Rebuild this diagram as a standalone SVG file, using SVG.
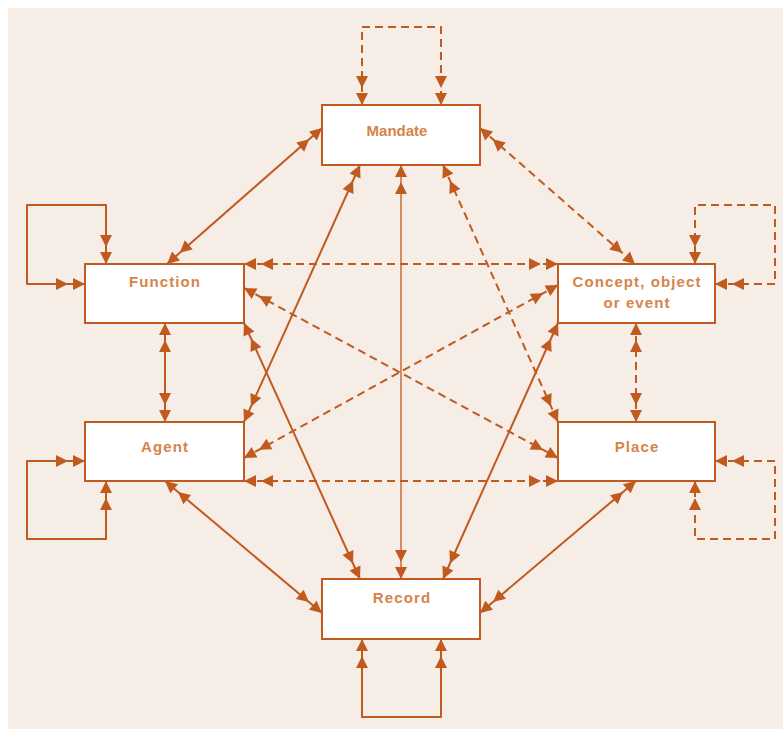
<svg xmlns="http://www.w3.org/2000/svg" width="783" height="729" viewBox="0 0 783 729">
<style>
.box{fill:#ffffff;stroke:#C05A1E;stroke-width:2}
.lbl{font-family:"Liberation Sans",Arial,sans-serif;font-size:15px;font-weight:bold;fill:#D6844A;text-anchor:middle;letter-spacing:1.1px}
.c{fill:none;stroke:#C05A1E;stroke-width:2;marker-start:url(#dh);marker-end:url(#dh);stroke-linejoin:round}
.thin{stroke-width:1.3}
.dash{stroke-dasharray:8 5}
</style>
<defs>
<marker id="dh" viewBox="0 0 31 13" refX="31" refY="6.5" markerWidth="31" markerHeight="13" markerUnits="userSpaceOnUse" orient="auto-start-reverse">
<path d="M31,6.5 L19,0.5 L19,12.5 Z M14,6.5 L2,0.5 L2,12.5 Z" fill="#C05A1E"/>
</marker>
</defs>
<rect x="8" y="8" width="775" height="721" fill="#F6EDE6"/>
<g id="connectors">
<path class="c dash" d="M362,105 V27 H441 V105"/>
<path class="c" d="M85,284 H27 V205 H106 V264"/>
<path class="c dash" d="M715,284 H775 V205 H695 V264"/>
<path class="c" d="M85,461 H27 V539 H106 V481"/>
<path class="c dash" d="M715,461 H775 V539 H695 V481"/>
<path class="c" d="M362,639 V717 H441 V639"/>
<path class="c" d="M322,128 L167,264"/>
<path class="c" d="M360,165 L244,422"/>
<path class="c thin" d="M401,165 L401,579"/>
<path class="c" d="M165,323 L165,422"/>
<path class="c" d="M244,323 L360,579"/>
<path class="c" d="M558,323 L443,579"/>
<path class="c" d="M165,481 L322,613"/>
<path class="c" d="M636,481 L480,613"/>
<path class="c dash" d="M480,128 L635,264"/>
<path class="c dash" d="M443,165 L558,422"/>
<path class="c dash" d="M244,264 L558,264"/>
<path class="c dash" d="M244,288 L558,458"/>
<path class="c dash" d="M558,285 L244,458"/>
<path class="c dash" d="M636,323 L636,422"/>
<path class="c dash" d="M244,481 L558,481"/>
</g>
<g id="mandate"><rect class="box" x="322" y="105" width="158" height="60"/><text class="lbl" x="397" y="136" style="letter-spacing:0">Mandate</text></g>
<g id="function"><rect class="box" x="85" y="264" width="159" height="59"/><text class="lbl" x="165" y="287">Function</text></g>
<g id="concept"><rect class="box" x="558" y="264" width="157" height="59"/><text class="lbl" x="637" y="287">Concept, object</text><text class="lbl" x="637" y="308">or event</text></g>
<g id="agent"><rect class="box" x="85" y="422" width="159" height="59"/><text class="lbl" x="165" y="452">Agent</text></g>
<g id="place"><rect class="box" x="558" y="422" width="157" height="59"/><text class="lbl" x="637" y="452">Place</text></g>
<g id="record"><rect class="box" x="322" y="579" width="158" height="60"/><text class="lbl" x="402" y="603">Record</text></g>
</svg>
